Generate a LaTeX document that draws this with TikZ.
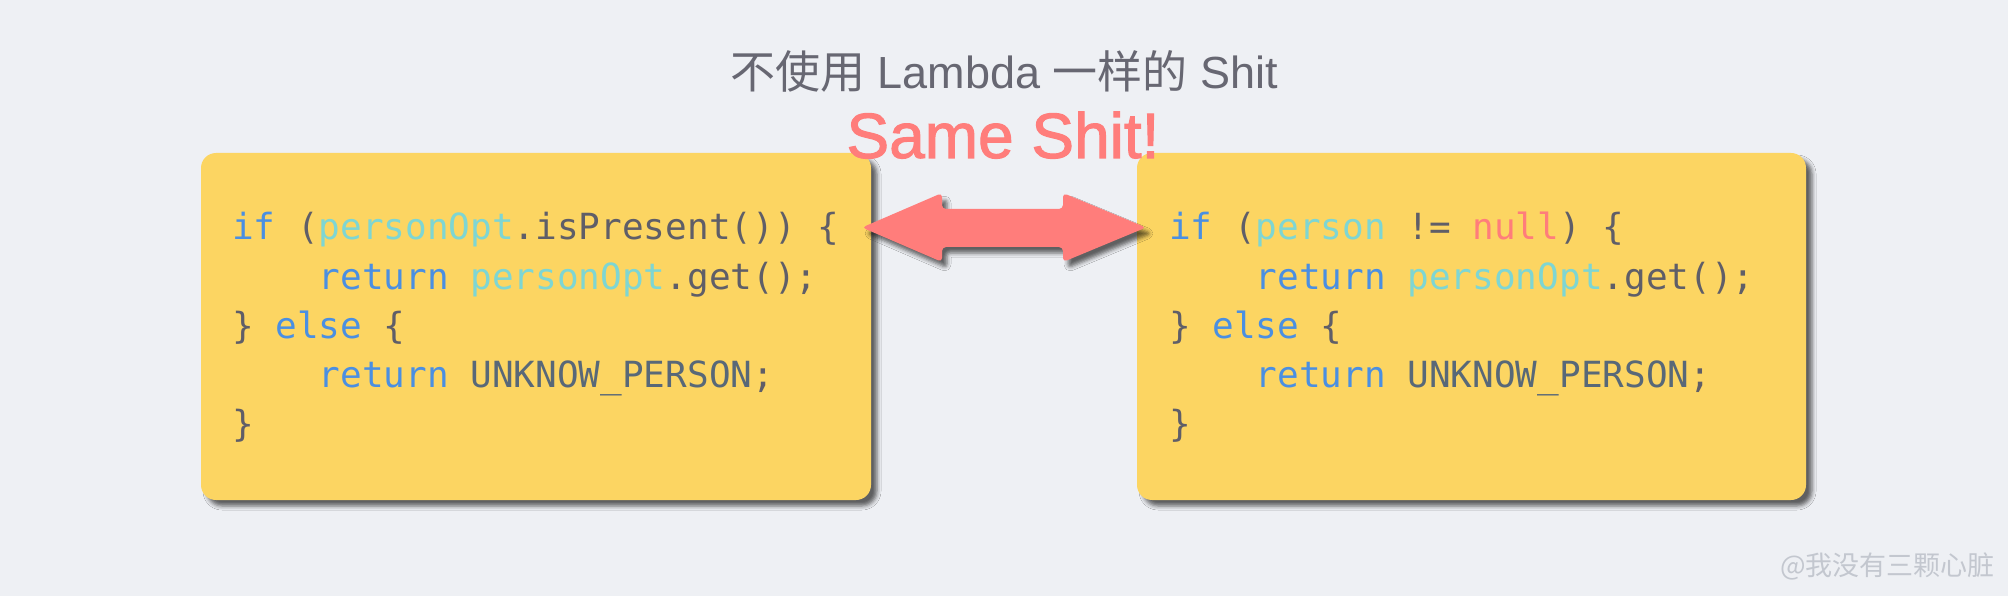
\documentclass[tikz,border=0pt]{standalone}
\usepackage{fontspec}
\setmainfont{Liberation Sans}
\newfontfamily\cjk{Noto Sans CJK SC}
\newfontfamily\codefont{DejaVu Sans Mono}
\newfontfamily\heavyfont[FakeBold=1.6]{Liberation Sans}
\usetikzlibrary{shadows.blur}
\definecolor{bg}{HTML}{EEF0F4}
\definecolor{boxyellow}{HTML}{FCD562}
\definecolor{kwblue}{HTML}{4A8FE2}
\definecolor{varcyan}{HTML}{7ED6D3}
\definecolor{codegray}{HTML}{5F5E68}
\definecolor{constgray}{HTML}{586878}
\definecolor{salmon}{HTML}{FF7D7B}
\definecolor{titlegray}{HTML}{676772}
\definecolor{markgray}{HTML}{C3C7CF}
\newcommand\cKw[1]{\textcolor{kwblue}{#1}}
\newcommand\cVar[1]{\textcolor{varcyan}{#1}}
\newcommand\cNull[1]{\textcolor{salmon}{#1}}
\newcommand\cConst[1]{\textcolor{constgray}{#1}}
\newcommand\cInd{\phantom{0000}}
\tikzset{
  codebox/.style={fill=boxyellow, rounded corners=15pt,
    blur shadow={shadow xshift=6pt, shadow yshift=-6pt, shadow blur radius=4pt, shadow opacity=60}},
  codeline/.style={anchor=base west, inner sep=0pt, text=codegray,
    font=\codefont\fontsize{36}{49}\selectfont},
  arrowshape/.style={fill=salmon, rounded corners=4pt,
    blur shadow={shadow xshift=5pt, shadow yshift=-6pt, shadow blur radius=4pt, shadow opacity=60}},
}
\begin{document}
\begin{tikzpicture}[x=1pt,y=-1pt]
\useasboundingbox (0,0) rectangle (2008,596);
\fill[bg] (0,0) rectangle (2008,596);
% boxes
\path[codebox] (201,153) rectangle (871,500);
\path[codebox] (1137,153) rectangle (1806,500);
% left code
\node[codeline] (l1) at (232,240) {\cKw{if} (\cVar{personOpt}.isPresent()) \{};
\node[codeline] (l2) at (232,289) {\cInd\cKw{return} \cVar{personOpt}.get();};
\node[codeline] (l3) at (232,338) {\} \cKw{else} \{};
\node[codeline] (l4) at (232,387) {\cInd\cKw{return} \cConst{UNKNOW\_PERSON};};
\node[codeline] (l5) at (232,436) {\}};
% right code
\node[codeline] (r1) at (1169,240) {\cKw{if} (\cVar{person} != \cNull{null}) \{};
\node[codeline] (r2) at (1169,289) {\cInd\cKw{return} \cVar{personOpt}.get();};
\node[codeline] (r3) at (1169,338) {\} \cKw{else} \{};
\node[codeline] (r4) at (1169,387) {\cInd\cKw{return} \cConst{UNKNOW\_PERSON};};
\node[codeline] (r5) at (1169,436) {\}};
% double arrow
\path[arrowshape] (862,227.5) -- (942,193) -- (942,209) -- (1063,209) -- (1063,193)
  -- (1146,227.5) -- (1063,262) -- (1063,247) -- (942,247) -- (942,262) -- cycle;
% titles
\node[anchor=base, inner sep=0pt, text=titlegray, font=\fontsize{45}{52}\selectfont] (title) at (1004,89)
  {{\cjk 不使用} Lambda {\cjk 一样的} Shit};
\node[anchor=base, inner sep=0pt, text=salmon, font=\heavyfont\fontsize{64}{72}\selectfont] (same) at (1003,158)
  {Same Shit!};
\node[anchor=base east, inner sep=0pt, text=markgray, font=\cjk\fontsize{27}{32}\selectfont] (mark) at (1995,575)
  {@我没有三颗心脏};
\end{tikzpicture}
\end{document}
